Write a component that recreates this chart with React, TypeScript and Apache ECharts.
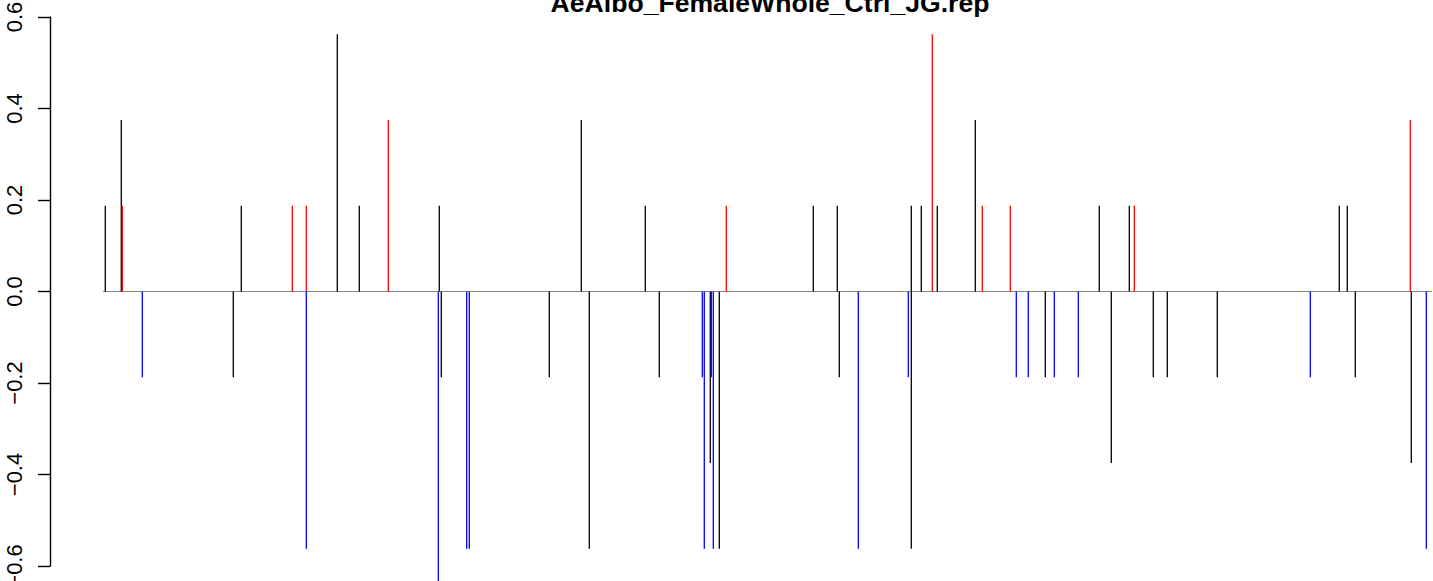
import React, { useEffect, useRef } from "react";
import * as echarts from "echarts";

const TITLE = "AeAlbo_FemaleWhole_Ctrl_JG.rep";

// y tick labels
const Y_TICKS = [-0.6, -0.4, -0.2, 0.0, 0.2, 0.4, 0.6];

// positions (arbitrary genomic units) and values, per colour group
const blackPos = [1.3, 17.3, 129.3, 137.3, 233.3, 255.3, 335.3, 337.3, 445.3, 477.3, 485.3, 541.3, 555.3, 606.3, 615.3, 709.3, 733.3, 735.3, 807.3, 807.3, 817.3, 833.3, 871.3, 941.3, 995.3, 1007.3, 1025.3, 1049.3, 1063.3, 1113.3, 1235.3, 1243.3, 1251.3, 1307.3];
const blackVal = [0.1875, 0.375, -0.1875, 0.1875, 0.5625, 0.1875, 0.1875, -0.1875, -0.1875, 0.375, -0.5625, 0.1875, -0.1875, -0.375, -0.5625, 0.1875, 0.1875, -0.1875, 0.1875, -0.5625, 0.1875, 0.1875, 0.375, -0.1875, 0.1875, -0.375, 0.1875, -0.1875, -0.1875, -0.1875, 0.1875, 0.1875, -0.1875, -0.375];

const redPos = [18.3, 188.3, 202.3, 284.3, 622.3, 828.3, 878.3, 906.3, 1030.3, 1306.3];
const redVal = [0.1875, 0.1875, 0.1875, 0.375, 0.1875, 0.5625, 0.1875, 0.1875, 0.1875, 0.375];

const bluePos = [38.3, 202.3, 334.3, 362.7, 365.3, 598.3, 600.3, 607.3, 609.3, 754.3, 804.3, 912.3, 924.3, 950.3, 974.3, 1206.3, 1322.3];
const blueVal = [-0.1875, -0.5625, -0.75, -0.5625, -0.5625, -0.1875, -0.5625, -0.1875, -0.5625, -0.5625, -0.1875, -0.1875, -0.1875, -0.1875, -0.1875, -0.1875, -0.5625];

// baseline extent
const baseStart = -1;
const baseEnd = 1328;

const FONT = "'Liberation Sans', Arial, Helvetica, sans-serif";

function zip(p: number[], v: number[]) {
  return p.map((x, i) => [x, v[i]]);
}

function barSeries(name: string, p: number[], v: number[], color: string) {
  return {
    name,
    type: "bar",
    data: zip(p, v),
    barWidth: 1.3,
    barGap: "-100%",
    clip: false,
    itemStyle: { color, borderWidth: 0 },
    emphasis: { disabled: true },
    z: 3,
  };
}

export default function App() {
  const ref = useRef<HTMLDivElement>(null);
  useEffect(() => {
    if (!ref.current) return;
    const chart = echarts.init(ref.current, null, { renderer: "svg" });
    chart.setOption({
      animation: false,
      backgroundColor: "#ffffff",
      title: {
        text: TITLE,
        left: 765,
        top: -16,
        textAlign: "center",
        textStyle: { fontFamily: FONT, fontWeight: "bold", fontSize: 26.6, color: "#000" },
      },
      grid: {
        left: 50,
        top: 17,
        width: 1430,
        height: 549,
        containLabel: false,
        outerBoundsMode: "none",
      },
      xAxis: {
        type: "value",
        min: -54,
        max: 1376,
        show: false,
        splitLine: { show: false },
      },
      yAxis: {
        type: "value",
        min: Y_TICKS[0],
        max: Y_TICKS[Y_TICKS.length - 1],
        interval: 0.2,
        splitLine: { show: false },
        axisLine: { show: true, onZero: false, lineStyle: { color: "#000", width: 1.4 } },
        axisTick: { show: true, inside: false, length: 12, lineStyle: { color: "#000", width: 1.4 } },
        axisLabel: {
          rotate: 90,
          margin: 25,
          fontFamily: FONT,
          fontSize: 22,
          color: "#000",
          formatter: (v: number) => v.toFixed(1).replace("-", "\u2212"),
        },
      },
      series: [
        {
          type: "line",
          data: [[baseStart, 0], [baseEnd, 0]],
          symbol: "none",
          lineStyle: { color: "#888888", width: 1.2 },
          z: 1,
          silent: true,
        },
        barSeries("black", blackPos, blackVal, "#000000"),
        barSeries("red", redPos, redVal, "#ff0000"),
        barSeries("blue", bluePos, blueVal, "#0000ff"),
      ],
    });
    return () => chart.dispose();
  }, []);
  return (
    <div
      ref={ref}
      style={{ position: "fixed", left: 0, top: 0, width: 1433, height: 581, background: "#fff" }}
    />
  );
}
